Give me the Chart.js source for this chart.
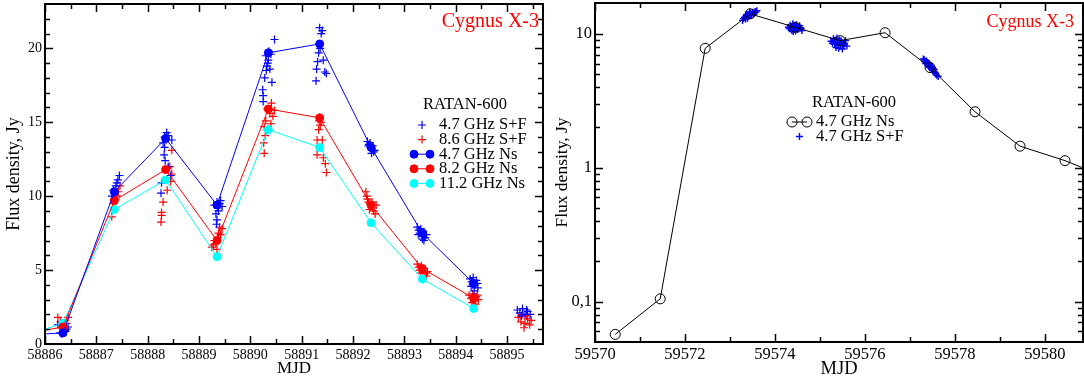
<!DOCTYPE html>
<html>
<head>
<meta charset="utf-8">
<script src="https://cdn.jsdelivr.net/npm/chart.js@4.4.1/dist/chart.umd.min.js"></script>
<style>
  body { margin: 0; background: #fff; }
  #wrap { position: relative; width: 1084px; height: 380px; }
  canvas { position: absolute; top: 0; }
</style>
</head>
<body>
<div id="wrap">
  <canvas id="left" width="548" height="380" style="left:0"></canvas>
  <canvas id="right" width="536" height="380" style="left:548px"></canvas>
</div>
<script>
// ---- left panel: daily RATAN-600 fluxes, MJD 58886 - 58895
var mjdNs     = [58885.35, 58886.35, 58887.35, 58888.35, 58889.35, 58890.35, 58891.35, 58892.35, 58893.35, 58894.35];
var flux47Ns  = [0.55, 0.75, 10.3, 13.9, 9.4, 19.7, 20.3, 13.3, 7.5, 4.1];
var flux82Ns  = [0.55, 1.15, 9.7, 11.8, 7.0, 15.9, 15.3, 9.4, 5.1, 3.1];
var flux112Ns = [0.3, 1.4, 9.1, 11.1, 5.9, 14.5, 13.3, 8.2, 4.4, 2.4];

// 4.7 GHz S+F scans
var mjdSF47 = [
  58886.25, 58886.30, 58886.33, 58886.36, 58886.38, 58886.40, 58886.42, 58886.45, 58886.37,
  58887.30, 58887.33, 58887.38, 58887.42, 58887.45, 58887.40, 58887.36,
  58888.37, 58888.33, 58888.40, 58888.47, 58888.33, 58888.32, 58888.34, 58888.27, 58888.26, 58888.45, 58888.40, 58888.30,
  58889.30, 58889.35, 58889.40, 58889.45, 58889.38, 58889.33, 58889.35, 58889.34, 58889.42, 58889.37,
  58890.47, 58890.30, 58890.35, 58890.40, 58890.32, 58890.38, 58890.34, 58890.28, 58890.42, 58890.24, 58890.25, 58890.25, 58890.36, 58890.31,
  58891.35, 58891.38, 58891.40, 58891.33, 58891.31, 58891.42, 58891.29, 58891.48, 58891.28, 58891.36, 58891.45,
  58892.28, 58892.31, 58892.34, 58892.37, 58892.40, 58892.33, 58892.36, 58892.42, 58892.30, 58892.38,
  58893.25, 58893.28, 58893.30, 58893.33, 58893.36, 58893.40, 58893.43, 58893.38, 58893.32, 58893.35, 58893.27,
  58894.28, 58894.31, 58894.34, 58894.37, 58894.40, 58894.43, 58894.36, 58894.30, 58894.42, 58894.33,
  58895.20, 58895.25, 58895.30, 58895.35, 58895.40, 58895.45, 58895.28, 58895.38
];
var fluxSF47 = [
  1.3, 0.75, 0.7, 0.8, 0.9, 0.85, 1.0, 1.15, 0.95,
  10.0, 10.4, 10.7, 11.1, 11.4, 10.9, 10.2,
  14.3, 14.0, 14.1, 13.8, 13.3, 12.8, 12.4, 10.9, 10.2, 11.4, 12.0, 13.6,
  9.4, 9.6, 9.5, 9.3, 9.0, 8.8, 8.4, 8.1, 9.7, 9.2,
  20.6, 19.5, 19.2, 19.6, 18.8, 18.6, 19.0, 18.0, 17.7, 17.2, 16.8, 16.4, 19.8, 18.5,
  21.4, 21.0, 21.2, 19.7, 19.1, 19.2, 18.6, 18.3, 17.8, 20.0, 18.4,
  13.7, 13.5, 13.3, 13.2, 13.0, 13.6, 12.9, 13.1, 13.4, 13.4,
  7.9, 7.7, 7.5, 7.6, 7.3, 7.2, 7.4, 7.0, 7.8, 7.1, 7.4,
  4.4, 4.2, 4.5, 4.0, 4.3, 3.8, 3.6, 3.9, 4.1, 4.0,
  2.3, 2.1, 2.4, 2.0, 2.2, 2.0, 1.9, 2.3
];

// 8.6 GHz S+F scans
var mjdSF86 = [
  58886.25, 58886.30, 58886.45, 58886.42, 58886.35, 58886.38,
  58887.30, 58887.33, 58887.37, 58887.40, 58887.43, 58887.46, 58887.35,
  58888.47, 58888.43, 58888.47, 58888.40, 58888.38, 58888.30, 58888.27, 58888.27, 58888.26, 58888.45,
  58889.40, 58889.38, 58889.30, 58889.25, 58889.33, 58889.36, 58889.45, 58889.28, 58889.35, 58889.42,
  58890.41, 58890.47, 58890.44, 58890.30, 58890.27, 58890.29, 58890.26, 58890.27, 58890.38, 58890.33, 58890.40,
  58891.34, 58891.36, 58891.30, 58891.40, 58891.30, 58891.42, 58891.46, 58891.48, 58891.38, 58891.33,
  58892.25, 58892.27, 58892.28, 58892.30, 58892.33, 58892.35, 58892.38, 58892.40, 58892.43, 58892.32, 58892.37, 58892.45,
  58893.25, 58893.28, 58893.30, 58893.33, 58893.36, 58893.40, 58893.43, 58893.38, 58893.32, 58893.45,
  58894.26, 58894.30, 58894.33, 58894.36, 58894.40, 58894.44, 58894.38, 58894.32, 58894.42, 58894.35,
  58895.22, 58895.27, 58895.30, 58895.35, 58895.40, 58895.44, 58895.33, 58895.38, 58895.47
];
var fluxSF86 = [
  1.8, 1.5, 1.8, 1.4, 1.2, 1.1,
  8.6, 9.5, 9.8, 10.0, 10.3, 10.7, 9.7,
  13.1, 12.0, 11.5, 11.9, 10.4, 9.6, 8.9, 8.7, 8.25, 11.0,
  7.9, 7.5, 7.0, 6.55, 6.8, 7.2, 7.8, 6.7, 6.4, 7.4,
  16.3, 15.8, 15.4, 15.1, 14.7, 14.1, 13.6, 12.9, 15.6, 15.9, 14.9,
  15.1, 14.8, 13.8, 13.8, 12.8, 12.6, 12.2, 11.6, 15.0, 14.5,
  10.3, 10.0, 9.8, 9.6, 9.5, 9.3, 9.2, 9.0, 8.8, 9.1, 9.6, 9.4,
  5.4, 5.2, 5.0, 5.3, 4.9, 4.8, 4.6, 5.1, 4.8, 4.9,
  3.3, 3.1, 3.4, 2.9, 3.2, 3.0, 2.7, 2.8, 3.3, 3.1,
  1.8, 1.5, 2.0, 1.4, 1.7, 1.3, 1.1, 1.9, 1.6
];

var xTicksLeft = [58886, 58887, 58888, 58889, 58890, 58891, 58892, 58893, 58894, 58895];
var xMinorLeft = [58886.5, 58887.5, 58888.5, 58889.5, 58890.5, 58891.5, 58892.5, 58893.5, 58894.5, 58895.5];
var yTicksLeft = [0, 5, 10, 15, 20];
var yMinorLeft = [1, 2, 3, 4, 6, 7, 8, 9, 11, 12, 13, 14, 16, 17, 18, 19, 21, 22];

// ---- right panel: MJD 59570 - 59581
var mjdNsR  = [59570.45, 59571.45, 59572.45, 59573.45, 59574.45, 59575.45, 59576.45, 59577.45, 59578.45, 59579.45, 59580.45, 59581.45];
var fluxNsR = [0.057, 0.105, 7.8, 14.1, 11.2, 8.9, 10.2, 5.6, 2.62, 1.45, 1.13, 0.83];

var mjdSFR = [
  59573.28, 59573.30, 59573.33, 59573.36, 59573.38, 59573.40, 59573.42, 59573.45, 59573.48, 59573.50, 59573.53, 59573.56, 59573.60, 59573.35, 59573.46,
  59573.32, 59573.37, 59573.41, 59573.44, 59573.47, 59573.52, 59573.55, 59573.58, 59573.39, 59573.43,
  59574.30, 59574.34, 59574.37, 59574.40, 59574.43, 59574.46, 59574.50, 59574.53, 59574.56, 59574.60, 59574.41, 59574.48,
  59574.32, 59574.36, 59574.39, 59574.44, 59574.47, 59574.51, 59574.55, 59574.58, 59574.45, 59574.38,
  59575.25, 59575.30, 59575.33, 59575.36, 59575.40, 59575.43, 59575.46, 59575.50, 59575.53, 59575.57, 59575.60, 59575.38, 59575.48,
  59575.28, 59575.32, 59575.35, 59575.41, 59575.44, 59575.47, 59575.52, 59575.55, 59575.42, 59575.34,
  59577.30, 59577.33, 59577.36, 59577.39, 59577.42, 59577.45, 59577.48, 59577.51, 59577.54, 59577.57, 59577.60, 59577.63, 59577.40, 59577.50,
  59577.32, 59577.35, 59577.38, 59577.41, 59577.44, 59577.47, 59577.52, 59577.55, 59577.58, 59577.43
];
var fluxSFR = [
  12.6, 13.0, 13.3, 13.5, 13.8, 13.4, 14.0, 14.2, 13.9, 14.5, 14.3, 14.7, 14.9, 12.9, 13.7,
  13.2, 13.9, 13.6, 14.6, 14.1, 14.0, 14.4, 14.6, 13.1, 13.9,
  11.2, 11.6, 10.8, 11.9, 11.0, 10.5, 11.4, 10.9, 11.1, 10.6, 10.4, 11.7,
  10.9, 11.3, 11.1, 11.5, 11.0, 10.8, 11.5, 11.0, 11.3, 10.6,
  8.8, 9.2, 8.4, 7.9, 8.6, 9.0, 8.2, 7.7, 8.5, 8.9, 8.1, 9.3, 8.7,
  8.5, 8.9, 8.6, 8.3, 8.7, 8.9, 8.2, 8.4, 7.8, 9.0,
  6.5, 6.2, 6.3, 5.9, 5.7, 5.8, 5.5, 5.3, 5.4, 5.1, 4.9, 4.8, 6.1, 5.6,
  6.4, 6.0, 6.2, 5.8, 5.6, 5.7, 5.5, 5.2, 5.0, 6.0
];

var xTicksRight = [59570, 59572, 59574, 59576, 59578, 59580];
var xMinorRight = [59571, 59573, 59575, 59577, 59579];
var yTicksRight = [0.1, 1, 10];
var yTickLabelsRight = ['0,1', '1', '10'];
var yMinorRight = [0.06, 0.07, 0.08, 0.09, 0.2, 0.3, 0.4, 0.5, 0.6, 0.7, 0.8, 0.9, 2, 3, 4, 5, 6, 7, 8, 9];

Chart.defaults.font.family = '"Liberation Serif", "DejaVu Serif", serif';
Chart.defaults.color = '#000';

function pts(xs, ys) {
  return xs.map(function(x, i) { return {x: x, y: ys[i]}; });
}

// box frame with inward ticks, like the xmgrace original
var framePlugin = {
  id: 'frame',
  afterDraw: function(chart, args, o) {
    var ctx = chart.ctx, a = chart.chartArea;
    var sx = chart.scales.x, sy = chart.scales.y;
    ctx.save();
    ctx.strokeStyle = '#000';
    ctx.lineWidth = 1.5;
    function xt(vals, len) {
      vals.forEach(function(v) {
        var p = Math.round(sx.getPixelForValue(v)) + 0.5;
        if (p < a.left || p > a.right) return;
        ctx.beginPath();
        ctx.moveTo(p, a.bottom); ctx.lineTo(p, a.bottom - len);
        ctx.moveTo(p, a.top); ctx.lineTo(p, a.top + len);
        ctx.stroke();
      });
    }
    function yt(vals, len) {
      vals.forEach(function(v) {
        var p = Math.round(sy.getPixelForValue(v)) + 0.5;
        if (p < a.top || p > a.bottom) return;
        ctx.beginPath();
        ctx.moveTo(a.left, p); ctx.lineTo(a.left + len, p);
        ctx.moveTo(a.right, p); ctx.lineTo(a.right - len, p);
        ctx.stroke();
      });
    }
    xt(o.xMajor, 8); xt(o.xMinor, 5);
    yt(o.yMajor, 8); yt(o.yMinor, 5);
    ctx.lineWidth = 2;
    ctx.strokeRect(a.left, a.top, a.right - a.left, a.bottom - a.top);
    ctx.restore();
  }
};

var legendPlugin = {
  id: 'ratan',
  afterDraw: function(chart, args, o) {
    var ctx = chart.ctx;
    ctx.save();
    ctx.textBaseline = 'middle';
    ctx.textAlign = 'right';
    ctx.fillStyle = '#ff0000';
    ctx.font = o.nameFont;
    ctx.fillText('Cygnus X-3', o.nameX, o.nameY);
    ctx.textAlign = 'left';
    ctx.fillStyle = '#000';
    ctx.font = o.font;
    ctx.fillText('RATAN-600', o.titleX, o.titleY);
    o.items.forEach(function(k, i) {
      var ds = chart.data.datasets[k];
      var yy = o.rowY + i * o.rowStep;
      var st = {pointStyle: ds.pointStyle, radius: ds.pointRadius, borderWidth: ds.pointBorderWidth, rotation: 0};
      ctx.strokeStyle = ds.pointBorderColor;
      ctx.fillStyle = ds.pointBackgroundColor;
      ctx.lineWidth = ds.pointBorderWidth;
      if (ds.showLine) {
        ctx.beginPath();
        ctx.moveTo(o.symX - o.symHalf, yy); ctx.lineTo(o.symX + o.symHalf, yy);
        ctx.stroke();
        Chart.helpers.drawPoint(ctx, st, o.symX - o.symHalf, yy);
        Chart.helpers.drawPoint(ctx, st, o.symX + o.symHalf, yy);
      } else {
        Chart.helpers.drawPoint(ctx, st, o.symX, yy);
      }
      ctx.fillStyle = '#000';
      ctx.font = o.font;
      ctx.fillText(ds.label, o.textX, yy);
    });
    ctx.restore();
  }
};

function crossSet(label, data, color, r, w) {
  return {label: label, data: data, showLine: false, pointStyle: 'cross',
    pointRadius: r, pointBorderWidth: w, pointBorderColor: color, pointBackgroundColor: color, order: 1};
}
function lineSet(label, data, color) {
  return {label: label, data: data, showLine: true, borderColor: color, borderWidth: 1,
    pointStyle: 'circle', pointRadius: 4, pointBorderWidth: 1,
    pointBorderColor: color, pointBackgroundColor: color, order: 0};
}

function fitY(w) {
  return function(s) { s.width = w; s.paddingTop = 0; s.paddingBottom = 0; };
}
function fitX(h) {
  return function(s) { s.height = h; s.paddingLeft = 0; s.paddingRight = 0; };
}

new Chart(document.getElementById('left'), {
  type: 'scatter',
  data: {
    datasets: [
      crossSet('4.7 GHz S+F', pts(mjdSF47, fluxSF47), '#0000ff', 4, 1.2),
      crossSet('8.6 GHz S+F', pts(mjdSF86, fluxSF86), '#ff0000', 4, 1.2),
      lineSet('4.7 GHz Ns', pts(mjdNs, flux47Ns), '#0000ff'),
      lineSet('8.2 GHz Ns', pts(mjdNs, flux82Ns), '#ff0000'),
      lineSet('11.2 GHz Ns', pts(mjdNs, flux112Ns), '#00ffff')
    ]
  },
  options: {
    responsive: false,
    animation: false,
    events: [],
    layout: {autoPadding: false, padding: {top: 4, right: 5, left: 0, bottom: 0}},
    scales: {
      x: {
        type: 'linear', min: 58886, max: 58895.7,
        grid: {display: false, drawTicks: false}, border: {display: false},
        ticks: {autoSkip: false, maxRotation: 0, padding: 3, font: {size: 14},
          callback: function(v) { return String(v); }},
        afterBuildTicks: function(s) { s.ticks = xTicksLeft.map(function(v) { return {value: v}; }); },
        afterFit: fitX(36),
        title: {display: true, text: 'MJD', font: {size: 17}, padding: {top: 0, bottom: 1}}
      },
      y: {
        type: 'linear', min: 0, max: 23,
        grid: {display: false, drawTicks: false}, border: {display: false},
        ticks: {autoSkip: false, padding: 3, font: {size: 14}},
        afterBuildTicks: function(s) { s.ticks = yTicksLeft.map(function(v) { return {value: v}; }); },
        afterFit: fitY(45),
        title: {display: true, text: 'Flux density, Jy', font: {size: 18}, padding: {top: 3, bottom: 0}}
      }
    },
    plugins: {
      legend: {display: false},
      tooltip: {enabled: false},
      frame: {xMajor: xTicksLeft, xMinor: xMinorLeft, yMajor: yTicksLeft, yMinor: yMinorLeft},
      ratan: {items: [0, 1, 2, 3, 4], font: '16.5px "Liberation Serif"', nameFont: '20px "Liberation Serif"',
        nameX: 539, nameY: 22, titleX: 423, titleY: 105, rowY: 125, rowStep: 14.6,
        symX: 422, symHalf: 8, textX: 439}
    }
  },
  plugins: [framePlugin, legendPlugin]
});

new Chart(document.getElementById('right'), {
  type: 'scatter',
  data: {
    datasets: [
      {label: '4.7 GHz Ns', data: pts(mjdNsR, fluxNsR), showLine: true, borderColor: '#000', borderWidth: 1,
        pointStyle: 'circle', pointRadius: 5, pointBorderWidth: 1, pointBorderColor: '#000',
        pointBackgroundColor: 'rgba(0,0,0,0)', order: 1},
      crossSet('4.7 GHz S+F', pts(mjdSFR, fluxSFR), '#0000ff', 3.5, 1.4)
    ]
  },
  options: {
    responsive: false,
    animation: false,
    events: [],
    layout: {autoPadding: false, padding: {top: 3, right: 1, left: 0, bottom: 0}},
    scales: {
      x: {
        type: 'linear', min: 59570, max: 59580.85,
        grid: {display: false, drawTicks: false}, border: {display: false},
        ticks: {autoSkip: false, maxRotation: 0, padding: 3, font: {size: 16.5},
          callback: function(v) { return String(v); }},
        afterBuildTicks: function(s) { s.ticks = xTicksRight.map(function(v) { return {value: v}; }); },
        afterFit: fitX(38),
        title: {display: true, text: 'MJD', font: {size: 18.5}, padding: {top: 0, bottom: 0}}
      },
      y: {
        type: 'logarithmic', min: 0.05, max: 17,
        grid: {display: false, drawTicks: false}, border: {display: false},
        ticks: {autoSkip: false, padding: 3, font: {size: 16.5},
          callback: function(v) { return yTickLabelsRight[yTicksRight.indexOf(v)]; }},
        afterBuildTicks: function(s) { s.ticks = yTicksRight.map(function(v) { return {value: v}; }); },
        afterFit: fitY(47),
        title: {display: true, text: 'Flux density, Jy', font: {size: 17.5}, padding: {top: 3.5, bottom: 0}}
      }
    },
    plugins: {
      legend: {display: false},
      tooltip: {enabled: false},
      frame: {xMajor: xTicksRight, xMinor: xMinorRight, yMajor: yTicksRight, yMinor: yMinorRight},
      ratan: {items: [0, 1], font: '16.5px "Liberation Serif"', nameFont: '18px "Liberation Serif"',
        nameX: 526, nameY: 22, titleX: 264, titleY: 103, rowY: 122, rowStep: 14.5,
        symX: 251.5, symHalf: 7.5, textX: 268}
    }
  },
  plugins: [framePlugin, legendPlugin]
});
</script>
</body>
</html>
